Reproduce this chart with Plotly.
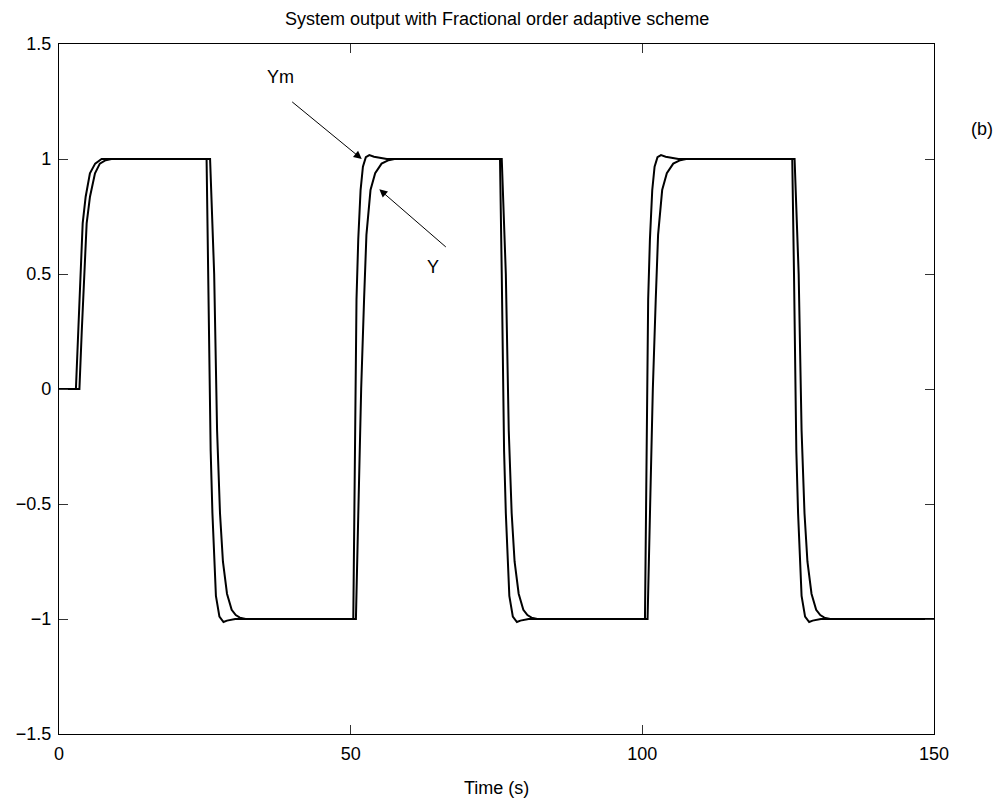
import plotly.graph_objects as go

# Reference-model output Ym (faster, slight overshoot)
ym_t = [0, 2.9, 3.3, 3.71, 4.06, 4.57, 5.3, 6.2, 7.3,
        25.3, 25.6, 26.0, 26.3, 26.6, 26.9, 27.5, 28.2, 28.8, 30.2,
        50.45, 50.7, 51.0, 51.3, 51.7, 52.1, 52.6, 53.2, 54.0, 56.2,
        75.6, 75.9, 76.3, 76.6, 76.9, 77.2, 77.8, 78.5, 79.1, 80.5,
        100.45, 100.7, 101.0, 101.3, 101.7, 102.1, 102.6, 103.2, 104.0, 106.2,
        125.7, 126.0, 126.4, 126.7, 127.0, 127.3, 127.9, 128.6, 129.2, 130.6,
        150]
ym_v = [0, 0, 0.25, 0.5, 0.72, 0.836, 0.938, 0.98, 1.0,
        1.0, 0.5, -0.27, -0.54, -0.76, -0.9, -0.99, -1.013, -1.007, -1.0,
        -1.0, -0.35, 0.39, 0.65, 0.865, 0.967, 1.008, 1.017, 1.01, 1.0,
        1.0, 0.5, -0.27, -0.54, -0.76, -0.9, -0.99, -1.013, -1.007, -1.0,
        -1.0, -0.35, 0.39, 0.65, 0.865, 0.967, 1.008, 1.017, 1.01, 1.0,
        1.0, 0.5, -0.27, -0.54, -0.76, -0.9, -0.99, -1.013, -1.007, -1.0,
        -1.0]

# Plant output Y (slower)
y_t = [0, 3.5, 3.9, 4.29, 4.74, 5.31, 6.17, 7.0, 8.0, 9.0,
       25.9, 26.6, 27.1, 27.6, 28.1, 28.8, 29.6, 30.3, 31.0, 32.0,
       50.9, 51.3, 51.8, 52.3, 52.7, 53.4, 54.2, 55.3, 56.5, 57.5,
       75.9, 76.6, 77.1, 77.6, 78.1, 78.8, 79.6, 80.3, 81.0, 82.0,
       100.9, 101.3, 101.8, 102.3, 102.7, 103.4, 104.2, 105.3, 106.5, 107.5,
       126.1, 126.8, 127.3, 127.8, 128.3, 129.0, 129.8, 130.5, 131.2, 132.2,
       150]
y_v = [0, 0, 0.25, 0.5, 0.72, 0.836, 0.938, 0.98, 0.995, 1.0,
       1.0, 0.5, -0.18, -0.54, -0.75, -0.89, -0.96, -0.983, -0.994, -1.0,
       -1.0, -0.55, 0.0, 0.39, 0.67, 0.865, 0.938, 0.98, 0.995, 1.0,
       1.0, 0.5, -0.18, -0.54, -0.75, -0.89, -0.96, -0.983, -0.994, -1.0,
       -1.0, -0.55, 0.0, 0.39, 0.67, 0.865, 0.938, 0.98, 0.995, 1.0,
       1.0, 0.5, -0.18, -0.54, -0.75, -0.89, -0.96, -0.983, -0.994, -1.0,
       -1.0]

x_ticks = [0, 50, 100, 150]
x_ticktext = ["0", "50", "100", "150"]
y_ticks = [-1.5, -1, -0.5, 0, 0.5, 1, 1.5]
y_ticktext = ["\u22121.5", "\u22121", "\u22120.5", "0", "0.5", "1", "1.5"]

FONT = "Liberation Sans, Arial, Helvetica, sans-serif"
FS = 18

fig = go.Figure()
fig.add_trace(go.Scatter(x=ym_t, y=ym_v, mode="lines", name="Ym",
                         line=dict(color="black", width=2)))
fig.add_trace(go.Scatter(x=y_t, y=y_v, mode="lines", name="Y",
                         line=dict(color="black", width=2)))

axis_common = dict(showgrid=False, zeroline=False, showline=True,
                   linecolor="black", linewidth=1.2, mirror="allticks",
                   ticks="inside", ticklen=9, tickwidth=1, tickcolor="#333",
                   tickfont=dict(family=FONT, size=FS, color="black"))

fig.update_layout(
    width=995, height=802,
    margin=dict(l=59, r=61, t=44, b=68),
    paper_bgcolor="white", plot_bgcolor="white",
    showlegend=False,
    font=dict(family=FONT, size=FS, color="black"),
    xaxis=dict(range=[0, 150], tickvals=x_ticks, ticktext=x_ticktext,
               ticklabelstandoff=3, **axis_common),
    yaxis=dict(range=[-1.5, 1.5], tickvals=y_ticks, ticktext=y_ticktext,
               ticklabelstandoff=3, **axis_common),
)

annotations = [
    # title
    dict(text="System output with Fractional order adaptive scheme", xref="paper", yref="paper",
         x=0.5, y=1 + 25 / 690, xanchor="center", yanchor="middle", showarrow=False,
         font=dict(family=FONT, size=FS)),
    # x label
    dict(text="Time (s)", xref="paper", yref="paper", x=0.5, y=-54 / 690,
         xanchor="center", yanchor="middle", showarrow=False, font=dict(family=FONT, size=FS)),
    # (b)
    dict(text="(b)", xref="paper", yref="paper", x=(982 - 59) / 875, y=(734 - 129) / 690,
         xanchor="center", yanchor="middle", showarrow=False, font=dict(family=FONT, size=FS)),
    # Ym label + arrow
    dict(text="Ym", x=37.98, y=1.358, xref="x", yref="y", showarrow=False,
         xanchor="center", yanchor="middle", font=dict(family=FONT, size=FS)),
    dict(text="", x=51.9, y=1.0, ax=39.72, ay=1.2535, xref="x", yref="y",
         axref="x", ayref="y", showarrow=True, arrowhead=2, arrowsize=1.6,
         arrowwidth=1, arrowcolor="black", standoff=0, startstandoff=0),
    # Y label + arrow
    dict(text="Y", x=64.17, y=0.532, xref="x", yref="y", showarrow=False,
         xanchor="center", yanchor="middle", font=dict(family=FONT, size=FS)),
    dict(text="", x=54.91, y=0.868, ax=66.57, ay=0.612, xref="x", yref="y",
         axref="x", ayref="y", showarrow=True, arrowhead=2, arrowsize=1.6,
         arrowwidth=1, arrowcolor="black", standoff=0, startstandoff=0),
]
fig.update_layout(annotations=annotations)

fig.write_html("out.html")
